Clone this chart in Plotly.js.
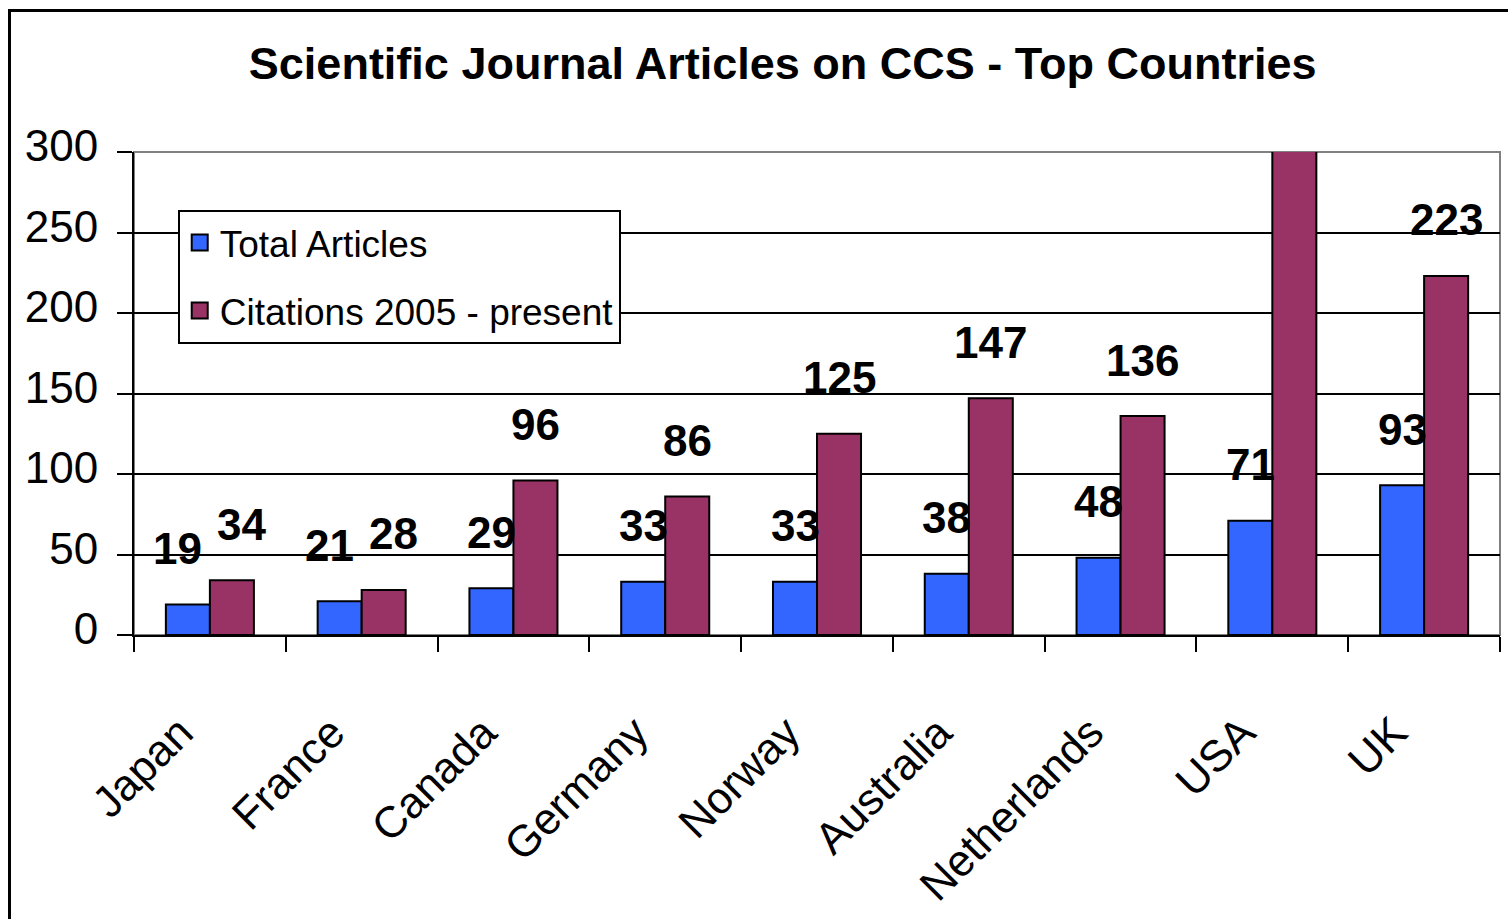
<!DOCTYPE html>
<html>
<head>
<meta charset="utf-8">
<script src="https://cdn.plot.ly/plotly-3.0.1.min.js"></script>
<style>
  html, body { margin: 0; padding: 0; background: #fff; overflow: hidden; }
  #wrap { position: relative; width: 1508px; height: 919px; }
  #chart { width: 1508px; height: 919px; }
  #frame { position: absolute; left: 8px; top: 9px; width: 1600px; height: 1000px;
           border-left: 3px solid #000; border-top: 3px solid #000; pointer-events: none; }
</style>
</head>
<body>
<div id="wrap">
  <div id="chart"></div>
  <div id="frame"></div>
</div>
<script>
const countries = ["Japan", "France", "Canada", "Germany", "Norway", "Australia", "Netherlands", "USA", "UK"];
const totalArticles = [19, 21, 29, 33, 33, 38, 48, 71, 93];
const citations = [34, 28, 96, 86, 125, 147, 136, 302, 223];
const seriesNames = ["Total Articles", "Citations 2005 - present"];
const yMax = 300;
const yTicks = [0, 50, 100, 150, 200, 250, 300];

const FONT = "Liberation Sans, Arial, sans-serif";
const blue = "#3366FF";
const maroon = "#993366";
const colors = [blue, maroon];

const plotH = 919 - 152 - 284;   // plot height in px (for label collision check)
const pxPerUnit = plotH / yMax;

const traces = [
  {
    type: "bar", name: seriesNames[0], x: countries, y: totalArticles,
    marker: { color: blue, line: { color: "#000", width: 2 } },
    showlegend: false, hoverinfo: "x+y"
  },
  {
    type: "bar", name: seriesNames[1], x: countries, y: citations,
    marker: { color: maroon, line: { color: "#000", width: 2 } },
    showlegend: false, hoverinfo: "x+y"
  }
];
// legend-only entries (larger square symbols, like the original legend keys)
seriesNames.forEach((nm, k) => {
  traces.push({
    type: "scatter", mode: "markers", name: nm, x: [null], y: [null],
    marker: { symbol: "square", size: 18, color: colors[k], line: { color: "#000", width: 2 } },
    legendgroup: "g" + k, showlegend: true, hoverinfo: "skip"
  });
});

const annotations = [];
countries.forEach((c, i) => {
  const a = totalArticles[i], b = citations[i];
  // if the two labels of a group would collide vertically, spread them apart sideways
  const close = Math.abs(b - a) * pxPerUnit < 40;
  const spread = close ? 10 : 0;
  const pairs = [[a, -22 - spread], [b, 22 + spread]];
  pairs.forEach(([v, sh]) => {
    if (v > yMax) return; // out of axis range: label hidden as in the original
    annotations.push({
      x: c, y: v, xref: "x", yref: "y",
      text: "<b>" + v + "</b>", showarrow: false,
      xshift: sh, yshift: 56, yanchor: "middle", xanchor: "center",
      font: { family: FONT, size: 44, color: "#000" }
    });
  });
});

const layout = {
  width: 1508, height: 919,
  margin: { l: 134, r: 8, t: 152, b: 284 },
  paper_bgcolor: "#fff", plot_bgcolor: "#fff",
  font: { family: FONT, color: "#000" },
  title: {
    text: "<b>Scientific Journal Articles on CCS - Top Countries</b>",
    font: { family: FONT, size: 45, color: "#000" },
    x: 0.519, xref: "container", xanchor: "center",
    y: 1 - 63 / 919, yref: "container", yanchor: "middle"
  },
  barmode: "group", bargap: 0.42, bargroupgap: 0,
  showlegend: true,
  legend: {
    x: 0.032, y: 0.88, xanchor: "left", yanchor: "top",
    bgcolor: "#fff", bordercolor: "#000", borderwidth: 2,
    font: { family: FONT, size: 37, color: "#000" },
    tracegroupgap: 17, traceorder: "grouped",
    itemsizing: "trace", itemwidth: 30
  },
  xaxis: {
    type: "category", range: [-0.5, countries.length - 0.5],
    showline: true, linecolor: "#000", linewidth: 2,
    ticks: "outside", tickson: "boundaries", ticklen: 15, tickwidth: 2, tickcolor: "#000",
    showgrid: false, zeroline: false,
    tickangle: -45,
    tickfont: { family: FONT, size: 44, color: "#000" },
    ticklabelstandoff: 52, ticklabelshift: -30
  },
  yaxis: {
    range: [0, yMax], tickvals: yTicks, ticktext: yTicks.map(String),
    showline: true, linecolor: "#000", linewidth: 2,
    ticks: "outside", ticklen: 15, tickwidth: 2, tickcolor: "#000",
    showgrid: true, gridcolor: "#000", gridwidth: 2, zeroline: false,
    tickfont: { family: FONT, size: 44, color: "#000" },
    ticklabelstandoff: 10, ticklabelshift: -6
  },
  shapes: [
    {
      type: "rect", xref: "x domain", yref: "y domain", x0: 0, x1: 1, y0: 0, y1: 1,
      line: { color: "#808080", width: 2 }, fillcolor: "rgba(0,0,0,0)", layer: "below"
    }
  ],
  annotations: annotations
};

Plotly.newPlot("chart", traces, layout, { displayModeBar: false, staticPlot: true });
</script>
</body>
</html>
